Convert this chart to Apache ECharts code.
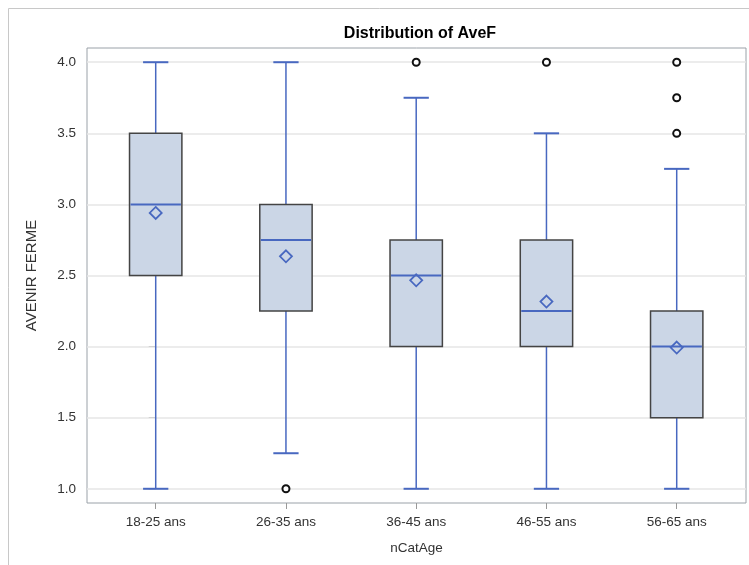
<!DOCTYPE html>
<html>
<head>
<meta charset="utf-8">
<script src="https://cdn.jsdelivr.net/npm/echarts@6/dist/echarts.min.js"></script>
<style>
html,body{margin:0;padding:0;background:#fff;}
#c{width:749px;height:565px;}
</style>
</head>
<body>
<div id="c"></div>
<script>
const categories = ['18-25 ans','26-35 ans','36-45 ans','46-55 ans','56-65 ans'];
const whiskerLow = [1.0, 1.25, 1.0, 1.0, 1.0];
const q1 = [2.5, 2.25, 2.0, 2.0, 1.5];
const median = [3.0, 2.75, 2.5, 2.25, 2.0];
const q3 = [3.5, 3.0, 2.75, 2.75, 2.25];
const whiskerHigh = [4.0, 4.0, 3.75, 3.5, 3.25];
const mean = [2.94, 2.635, 2.466, 2.317, 1.993];
const outliers = [[1, 1.0], [2, 4.0], [3, 4.0], [4, 3.5], [4, 3.75], [4, 4.0]];
const yTicks = [1.0, 1.5, 2.0, 2.5, 3.0, 3.5, 4.0];
const xTicks = [0, 1, 2, 3, 4];

const boxData = categories.map((c, i) => [i, whiskerLow[i], q1[i], median[i], q3[i], whiskerHigh[i], mean[i]]);

const BLUE = '#4868c0';
const FONT = 'Liberation Sans, Arial, sans-serif';

function renderItem(params, api) {
  const x = api.value(0);
  const unit = api.size([1, 0])[0];
  const boxW = unit * 0.402;
  const capW = unit * 0.194;
  const p = v => api.coord([x, v]);
  const pLow = p(api.value(1)), pQ1 = p(api.value(2)), pMed = p(api.value(3)),
        pQ3 = p(api.value(4)), pHigh = p(api.value(5)), pMean = p(api.value(6));
  const cx = pQ1[0];
  const ls = {stroke: BLUE, lineWidth: 1.5, fill: null};
  const d = 6;
  return {
    type: 'group',
    children: [
      {type: 'line', shape: {x1: cx, y1: pQ1[1], x2: cx, y2: pLow[1]}, style: ls},
      {type: 'line', shape: {x1: cx, y1: pQ3[1], x2: cx, y2: pHigh[1]}, style: ls},
      {type: 'line', shape: {x1: cx - capW/2, y1: pLow[1], x2: cx + capW/2, y2: pLow[1]}, style: {stroke: BLUE, lineWidth: 2}},
      {type: 'line', shape: {x1: cx - capW/2, y1: pHigh[1], x2: cx + capW/2, y2: pHigh[1]}, style: {stroke: BLUE, lineWidth: 2}},
      {type: 'rect', shape: {x: cx - boxW/2, y: pQ3[1], width: boxW, height: pQ1[1] - pQ3[1]},
        style: {fill: '#cbd6e6', stroke: '#444', lineWidth: 1.5}},
      {type: 'line', shape: {x1: cx - boxW/2 + 1, y1: pMed[1], x2: cx + boxW/2 - 1, y2: pMed[1]}, style: {stroke: BLUE, lineWidth: 2}},
      {type: 'polygon', shape: {points: [[cx, pMean[1]-d],[cx+d, pMean[1]],[cx, pMean[1]+d],[cx-d, pMean[1]]]},
        style: {fill: null, stroke: BLUE, lineWidth: 1.8}}
    ]
  };
}

const chart = echarts.init(document.getElementById('c'), null, {renderer: 'canvas'});
chart.setOption({
  backgroundColor: '#fff',
  animation: false,
  title: {
    text: 'Distribution of AveF',
    left: 415, top: 21, textAlign: 'center',
    textStyle: {fontFamily: FONT, fontSize: 16, fontWeight: 'bold', color: '#000'}
  },
  graphic: [{
    type: 'rect', shape: {x: 8.5, y: 8.5, width: 800, height: 600},
    style: {fill: null, stroke: '#c8c8c8', lineWidth: 1}, silent: true, z: -10
  }],
  grid: {left: 87, right: 3, top: 48, bottom: 62, show: true, borderColor: '#9aa1a8', borderWidth: 1, backgroundColor: 'transparent'},
  xAxis: {
    type: 'value', min: -0.5275, max: 4.532,
    name: 'nCatAge', nameLocation: 'middle', nameGap: 38,
    nameTextStyle: {fontFamily: FONT, fontSize: 13.5, color: '#333'},
    axisLine: {show: false},
    axisTick: {show: true, length: 6, lineStyle: {color: '#999'}, customValues: xTicks},
    axisLabel: {fontFamily: FONT, fontSize: 13.5, color: '#333', margin: 12, customValues: xTicks,
      formatter: v => categories[Math.round(v)]},
    splitLine: {show: false}
  },
  yAxis: {
    type: 'value', min: 0.9, max: 4.1,
    name: 'AVENIR FERME', nameLocation: 'middle', nameGap: 48, nameRotate: 90,
    nameTextStyle: {fontFamily: FONT, fontSize: 15, color: '#333'},
    axisLine: {show: false},
    axisTick: {show: true, length: 7, lineStyle: {color: '#999'}, customValues: yTicks},
    axisLabel: {fontFamily: FONT, fontSize: 13.5, color: '#333', margin: 11, customValues: yTicks,
      formatter: v => v.toFixed(1)},
    splitLine: {show: false}
  },
  series: [
    {
      type: 'custom', renderItem: renderItem, data: boxData,
      encode: {x: 0, y: [1, 2, 3, 4, 5, 6]}, z: 3
    },
    {
      type: 'scatter', data: outliers, symbol: 'circle', symbolSize: 7,
      itemStyle: {color: '#fff', borderColor: '#111', borderWidth: 2, opacity: 1}, z: 4,
      markLine: {
        silent: true, symbol: 'none', label: {show: false},
        lineStyle: {color: '#e6e6e6', width: 1.5, type: 'solid'},
        data: yTicks.map(v => ({yAxis: v})),
        z: 1
      }
    }
  ]
});
</script>
</body>
</html>
